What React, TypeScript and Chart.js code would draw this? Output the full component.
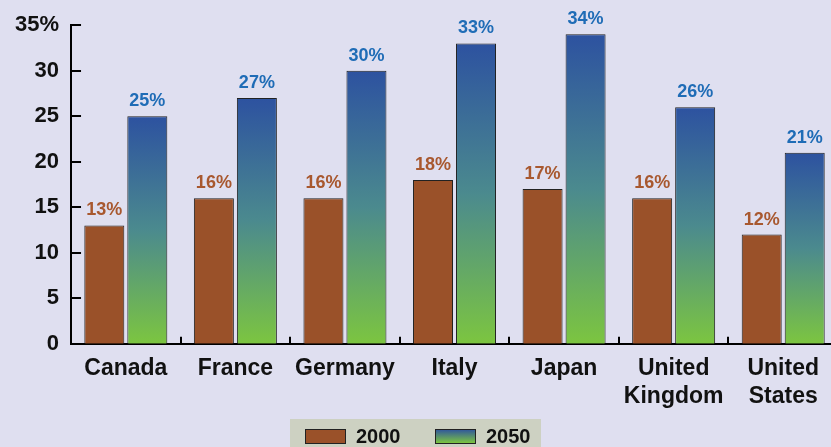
import React, { useEffect, useRef } from "react";
import { Chart, registerables } from "chart.js";

Chart.register(...registerables);

const categories: (string | string[])[] = [
  "Canada",
  "France",
  "Germany",
  "Italy",
  "Japan",
  ["United", "Kingdom"],
  ["United", "States"],
];
const values2000 = [13, 16, 16, 18, 17, 16, 12];
const values2050 = [25, 27, 30, 33, 34, 26, 21];
const seriesLabels = ["2000", "2050"];
const yTicks = [0, 5, 10, 15, 20, 25, 30, 35];

const VIEW_W = 831;
const VIEW_H = 447;
const CANVAS_W = 838;

const BG = "#dfdff0";
const BROWN = "#9a5129";
const BLUE_TOP = "#2d52a0";
const GREEN_BOTTOM = "#7cc540";
const FONT = "'Liberation Sans', Arial, sans-serif";

export default function App() {
  const ref = useRef<HTMLCanvasElement | null>(null);

  useEffect(() => {
    document.body.style.margin = "0";
    const canvas = ref.current!;

    const bgPlugin = {
      id: "bg",
      beforeDraw(chart: any) {
        const { ctx, width, height } = chart;
        ctx.save();
        ctx.fillStyle = BG;
        ctx.fillRect(0, 0, width, height);
        ctx.restore();
      },
    };

    const ticksPlugin = {
      id: "innerTicks",
      afterDatasetsDraw(chart: any) {
        const { ctx } = chart;
        const y = chart.scales.y;
        const x = chart.scales.x;
        const x0 = chart.chartArea.left;
        const y0 = chart.chartArea.bottom;
        ctx.save();
        ctx.strokeStyle = "#000";
        ctx.lineWidth = 2;
        yTicks.forEach((v) => {
          const py = Math.round(y.getPixelForValue(v));
          ctx.beginPath();
          ctx.moveTo(x0, py);
          ctx.lineTo(x0 + 10, py);
          ctx.stroke();
        });
        const n = categories.length;
        for (let i = 1; i < n; i++) {
          const px = Math.round(
            (x.getPixelForValue(i - 1) + x.getPixelForValue(i)) / 2
          );
          ctx.beginPath();
          ctx.moveTo(px, y0);
          ctx.lineTo(px, y0 - 7);
          ctx.stroke();
        }
        ctx.restore();
      },
    };

    const labelsPlugin = {
      id: "valueLabels",
      afterDatasetsDraw(chart: any) {
        const { ctx } = chart;
        ctx.save();
        ctx.font = `bold 18px ${FONT}`;
        ctx.textAlign = "center";
        ctx.textBaseline = "bottom";
        chart.data.datasets.forEach((ds: any, i: number) => {
          const meta = chart.getDatasetMeta(i);
          ctx.fillStyle = i === 0 ? "#a8582f" : "#1f6cb6";
          meta.data.forEach((bar: any, j: number) => {
            ctx.fillText(`${ds.data[j]}%`, bar.x, bar.y - 6);
          });
        });
        ctx.restore();
      },
    };

    const legendPlugin = {
      id: "customLegend",
      afterDraw(chart: any) {
        const { ctx } = chart;
        ctx.save();
        const boxW = 251;
        const boxH = 28;
        const bx = Math.round(VIEW_W / 2 - boxW / 2);
        const by = VIEW_H - boxH;
        ctx.fillStyle = "#cdd1c2";
        ctx.fillRect(bx, by, boxW, boxH);
        ctx.font = `bold 20px ${FONT}`;
        ctx.textBaseline = "middle";
        ctx.textAlign = "left";
        const itemY = by + 17;
        const items = [
          { x: bx + 15, label: seriesLabels[0], fill: BROWN as any },
          { x: bx + 145, label: seriesLabels[1], fill: null as any },
        ];
        items.forEach((it) => {
          const sw = 40;
          const sh = 14;
          const sy = itemY - sh / 2;
          let fill = it.fill;
          if (!fill) {
            const g = ctx.createLinearGradient(0, sy, 0, sy + sh);
            g.addColorStop(0, BLUE_TOP);
            g.addColorStop(1, GREEN_BOTTOM);
            fill = g;
          }
          ctx.fillStyle = fill;
          ctx.fillRect(it.x, sy, sw, sh);
          ctx.strokeStyle = "#222";
          ctx.lineWidth = 1;
          ctx.strokeRect(it.x + 0.5, sy + 0.5, sw, sh);
          ctx.fillStyle = "#111";
          ctx.fillText(it.label, it.x + sw + 11, itemY + 1);
        });
        ctx.restore();
      },
    };

    const gradientFill = (context: any) => {
      const chart = context.chart;
      const y = chart.scales?.y;
      if (!y || context.parsed == null) return BLUE_TOP;
      const top = y.getPixelForValue(context.parsed.y);
      const bottom = y.getPixelForValue(0);
      if (!isFinite(top) || !isFinite(bottom) || top === bottom) return BLUE_TOP;
      const g = chart.ctx.createLinearGradient(0, top, 0, bottom);
      g.addColorStop(0, BLUE_TOP);
      g.addColorStop(0.5, "#4b8a8e");
      g.addColorStop(1, GREEN_BOTTOM);
      return g;
    };

    const chart = new Chart(canvas, {
      type: "bar",
      data: {
        labels: categories as any,
        datasets: [
          {
            label: seriesLabels[0],
            data: values2000,
            backgroundColor: BROWN,
            borderColor: "#222",
            borderWidth: 1,
            categoryPercentage: 0.785,
            barPercentage: 0.93,
          },
          {
            label: seriesLabels[1],
            data: values2050,
            backgroundColor: gradientFill,
            borderColor: "#222",
            borderWidth: 1,
            categoryPercentage: 0.785,
            barPercentage: 0.93,
          },
        ],
      },
      options: {
        animation: false,
        responsive: false,
        maintainAspectRatio: false,
        layout: { padding: { top: 11, right: 0, bottom: 26, left: 3 } },
        plugins: {
          legend: { display: false },
          tooltip: { enabled: false },
        },
        scales: {
          x: {
            grid: { display: false, drawTicks: false },
            border: { display: true, color: "#000", width: 2 },
            ticks: {
              color: "#111",
              font: { family: FONT, size: 23, weight: "bold" },
              padding: 11,
              maxRotation: 0,
              autoSkip: false,
            },
          },
          y: {
            min: 0,
            max: 35,
            grid: { display: false, drawTicks: false },
            border: { display: true, color: "#000", width: 2 },
            afterBuildTicks: (axis: any) => {
              axis.ticks = yTicks.map((v) => ({ value: v }));
            },
            ticks: {
              color: "#111",
              font: { family: FONT, size: 22, weight: "bold" },
              padding: 12,
              callback: (v: any) => (v === 35 ? `${v}%` : `${v}`),
            },
          },
        },
      },
      plugins: [bgPlugin, ticksPlugin, labelsPlugin, legendPlugin],
    });

    return () => chart.destroy();
  }, []);

  return (
    <div style={{ width: VIEW_W, height: VIEW_H, overflow: "hidden", background: BG }}>
      <canvas ref={ref} width={CANVAS_W} height={VIEW_H} style={{ display: "block" }} />
    </div>
  );
}
